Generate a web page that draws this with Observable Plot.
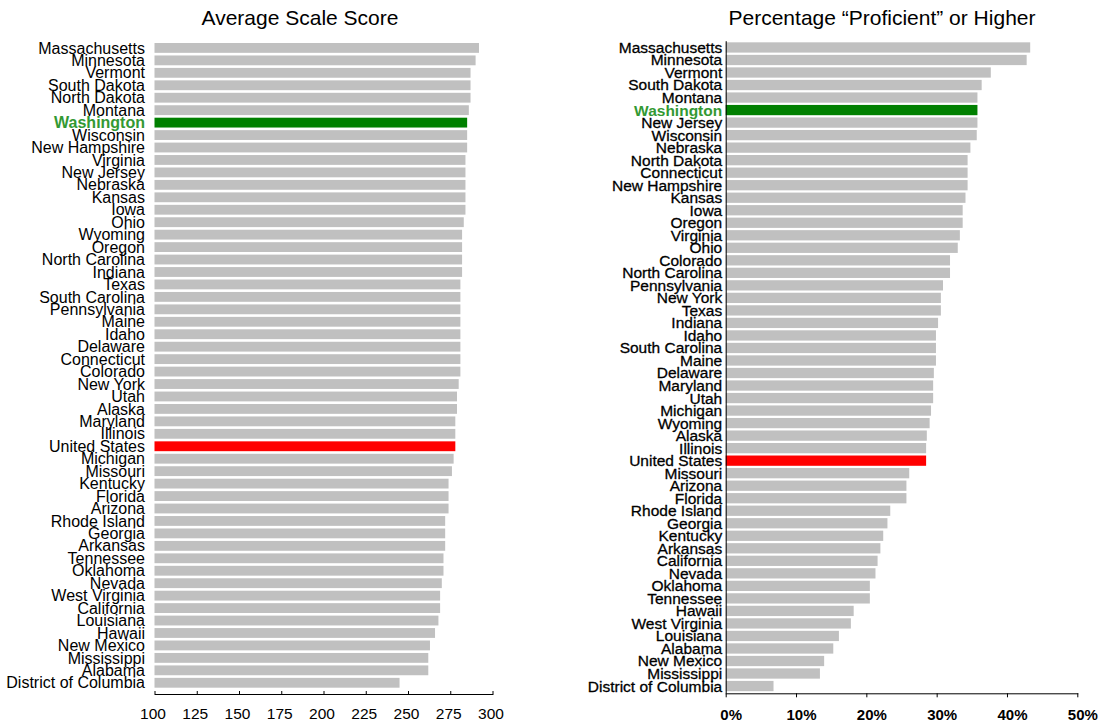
<!DOCTYPE html>
<html>
<head>
<meta charset="utf-8">
<script src="https://cdn.jsdelivr.net/npm/d3@7"></script>
<script src="https://cdn.jsdelivr.net/npm/@observablehq/plot@0.6"></script>
<style>
  html, body { margin: 0; padding: 0; background: #fff; }
  #wrap { position: relative; width: 1107px; height: 725px; font-family: "Liberation Sans", Arial, sans-serif; }
  .panel { position: absolute; top: 0; }
  .title { position: absolute; top: 7px; font-size: 21px; line-height: 21px; color: #000; white-space: nowrap; transform: translateX(-50%); }
</style>
</head>
<body>
<div id="wrap">
  <div class="title" style="left:300px">Average Scale Score</div>
  <div class="title" style="left:882px">Percentage “Proficient” or Higher</div>
  <div class="panel" id="left" style="left:0px"></div>
  <div class="panel" id="right" style="left:553px"></div>
</div>
<script>
const leftStates = ["Massachusetts","Minnesota","Vermont","South Dakota","North Dakota","Montana","Washington","Wisconsin","New Hampshire","Virginia","New Jersey","Nebraska","Kansas","Iowa","Ohio","Wyoming","Oregon","North Carolina","Indiana","Texas","South Carolina","Pennsylvania","Maine","Idaho","Delaware","Connecticut","Colorado","New York","Utah","Alaska","Maryland","Illinois","United States","Michigan","Missouri","Kentucky","Florida","Arizona","Rhode Island","Georgia","Arkansas","Tennessee","Oklahoma","Nevada","West Virginia","California","Louisiana","Hawaii","New Mexico","Mississippi","Alabama","District of Columbia"];
const leftScores = [292,290,287,287,287,286,285,285,285,284,284,284,284,284,283,282,282,282,282,281,281,281,281,281,281,281,281,280,279,279,278,278,278,277,276,274,274,274,272,272,272,271,271,270,269,269,268,266,263,262,262,245];
const leftTicks = [100,125,150,175,200,225,250,275,300];

const rightStates = ["Massachusetts","Minnesota","Vermont","South Dakota","Montana","Washington","New Jersey","Wisconsin","Nebraska","North Dakota","Connecticut","New Hampshire","Kansas","Iowa","Oregon","Virginia","Ohio","Colorado","North Carolina","Pennsylvania","New York","Texas","Indiana","Idaho","South Carolina","Maine","Delaware","Maryland","Utah","Michigan","Wyoming","Alaska","Illinois","United States","Missouri","Arizona","Florida","Rhode Island","Georgia","Kentucky","Arkansas","California","Nevada","Oklahoma","Tennessee","Hawaii","West Virginia","Louisiana","Alabama","New Mexico","Mississippi","District of Columbia"];
const rightPct = [43.3,42.8,37.7,36.4,35.8,35.8,35.8,35.7,34.8,34.4,34.4,34.4,34.1,33.7,33.7,33.3,33.0,31.9,31.9,30.9,30.6,30.6,30.2,29.9,29.9,29.9,29.6,29.5,29.5,29.2,29.0,28.6,28.5,28.5,26.1,25.7,25.7,23.4,23.0,22.4,22.0,21.6,21.3,20.5,20.5,18.2,17.8,16.1,15.3,14.0,13.4,6.8];
const rightTicks = [0,10,20,30,40,50];

const highlight = "Washington";
const national = "United States";
const barColor = s => s === highlight ? "#008000" : s === national ? "#ff0000" : "#c0c0c0";
const font = "'Liberation Sans', Arial, sans-serif";

const leftData = leftStates.map((s, i) => ({state: s, value: leftScores[i]}));
const rightData = rightStates.map((s, i) => ({state: s, value: rightPct[i]}));

const leftPlot = Plot.plot({
  width: 510, height: 725,
  marginLeft: 154.5, marginRight: 17.5, marginTop: 41.7, marginBottom: 31,
  style: {fontFamily: font, background: "transparent"},
  x: {domain: [leftTicks[0], leftTicks[leftTicks.length - 1]], label: null},
  y: {domain: leftStates, paddingInner: 0.21, paddingOuter: 0.105, insetBottom: 5, round: false, axis: null, label: null},
  marks: [
    Plot.barX(leftData, {y: "state", x1: leftTicks[0], x2: "value", fill: d => barColor(d.state)}),
    Plot.text(leftData, {filter: d => d.state !== highlight, y: "state", text: "state", frameAnchor: "left", textAnchor: "end", dx: -10, fontSize: 16, fill: "#000"}),
    Plot.text(leftData, {filter: d => d.state === highlight, y: "state", text: "state", frameAnchor: "left", textAnchor: "end", dx: -10, fontSize: 16, fontWeight: "bold", fill: "#339933"}),
    Plot.frame({anchor: "bottom", stroke: "#000"}),
    Plot.axisX({ticks: leftTicks, tickSize: 3, dy: -3, tickFormat: () => "", label: null}),
    Plot.axisX({ticks: leftTicks, tickSize: 0, tickPadding: 13, fontSize: 15.5, dx: -2, fill: "#000", label: null})
  ]
});
document.getElementById("left").appendChild(leftPlot);

const rightPlot = Plot.plot({
  width: 554, height: 725,
  marginLeft: 172.7, marginRight: 29.7, marginTop: 41.2, marginBottom: 31.7,
  style: {fontFamily: font, background: "transparent"},
  x: {domain: [rightTicks[0], rightTicks[rightTicks.length - 1]], label: null},
  y: {domain: rightStates, paddingInner: 0.18, paddingOuter: 0.09, insetBottom: 1, round: false, axis: null, label: null},
  marks: [
    Plot.barX(rightData, {y: "state", x1: rightTicks[0], x2: "value", fill: d => barColor(d.state)}),
    Plot.text(rightData, {filter: d => d.state !== highlight, y: "state", text: "state", frameAnchor: "left", textAnchor: "end", dx: -4, fontSize: 15.5, fill: "#000", stroke: "#000", strokeWidth: 0.3}),
    Plot.text(rightData, {filter: d => d.state === highlight, y: "state", text: "state", frameAnchor: "left", textAnchor: "end", dx: -4, fontSize: 15.5, fontWeight: "bold", fill: "#339933"}),
    Plot.ruleX([rightTicks[0]], {stroke: "#000"}),
    Plot.frame({anchor: "bottom", stroke: "#000"}),
    Plot.axisX({ticks: rightTicks, tickSize: 4, tickFormat: () => "", label: null}),
    Plot.axisX({ticks: rightTicks, tickSize: 0, tickPadding: 16, fontSize: 15, fontWeight: "bold", dx: 5, tickFormat: d => d + "%", fill: "#000", label: null})
  ]
});
document.getElementById("right").appendChild(rightPlot);
</script>
</body>
</html>
